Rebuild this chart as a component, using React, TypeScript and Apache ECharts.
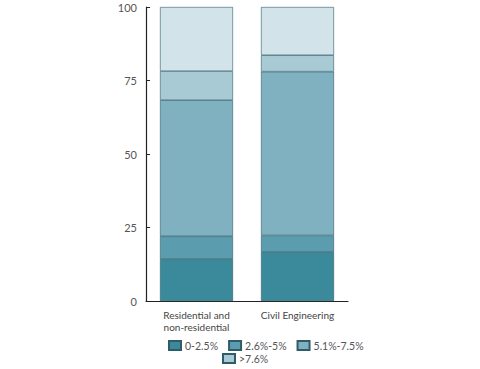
import React, { useEffect, useRef } from "react";
import * as echarts from "echarts";

const categories = ["Residential and\nnon-residential", "Civil Engineering"];
const seriesNames = ["0-2.5%", "2.6%-5%", "5.1%-7.5%", ">7.6%", "Other"];
const band1 = [14.2, 16.6];
const band2 = [7.8, 5.7];
const band3 = [46.3, 55.7];
const band4 = [9.9, 5.6];
const band5 = [21.8, 16.4];
const yTicks = [0, 25, 50, 75, 100];
const colors = ["#3a8a9c", "#5b9dae", "#80b1c1", "#a7cad5", "#d3e3ea"];

export default function App() {
  const ref = useRef<HTMLDivElement>(null);
  useEffect(() => {
    const chart = echarts.init(ref.current!, null, { renderer: "svg" });
    const data = [band1, band2, band3, band4, band5];
    const font = "Lato";
    const legendCommon = {
      itemWidth: 12,
      itemHeight: 9,
      itemGap: 10,
      padding: 0,
      icon: "rect",
      textStyle: { color: "#555", fontSize: 10.5, fontFamily: font, padding: [0, 0, 0, -1] },
    };
    chart.setOption({
      animation: false,
      textStyle: { fontFamily: font },
      grid: { left: 146, right: 132, top: 7, bottom: 68 },
      xAxis: {
        type: "category",
        data: categories,
        axisLine: { lineStyle: { color: "#222", width: 1.2 } },
        axisTick: { inside: true, length: 5, lineStyle: { color: "#222" } },
        axisLabel: { color: "#444", fontSize: 10, margin: 8, lineHeight: 12, fontFamily: font },
      },
      yAxis: {
        type: "value",
        min: 0,
        max: 100,
        interval: 25,
        splitLine: { show: false },
        axisLine: { show: true, lineStyle: { color: "#222", width: 1.2 } },
        axisTick: { show: true, inside: true, length: 4, lineStyle: { color: "#222" } },
        axisLabel: {
          color: "#555",
          fontSize: 11,
          margin: 9,
          fontFamily: font,
          formatter: (v: number) => (yTicks.includes(v) ? String(v) : ""),
        },
      },
      legend: [
        { ...legendCommon, data: seriesNames.slice(0, 3), left: 168, top: 340 },
        { ...legendCommon, data: [seriesNames[3]], left: 222, top: 353 },
      ],
      series: data.map((d, i) => ({
        name: seriesNames[i],
        type: "bar",
        stack: "total",
        barWidth: 73,
        data: d,
        itemStyle: { color: colors[i], borderColor: "#2f5c68", borderWidth: 0.6 },
      })),
    });
    return () => chart.dispose();
  }, []);
  return <div ref={ref} style={{ width: 480, height: 369, position: "absolute", left: 0, top: 0 }} />;
}
